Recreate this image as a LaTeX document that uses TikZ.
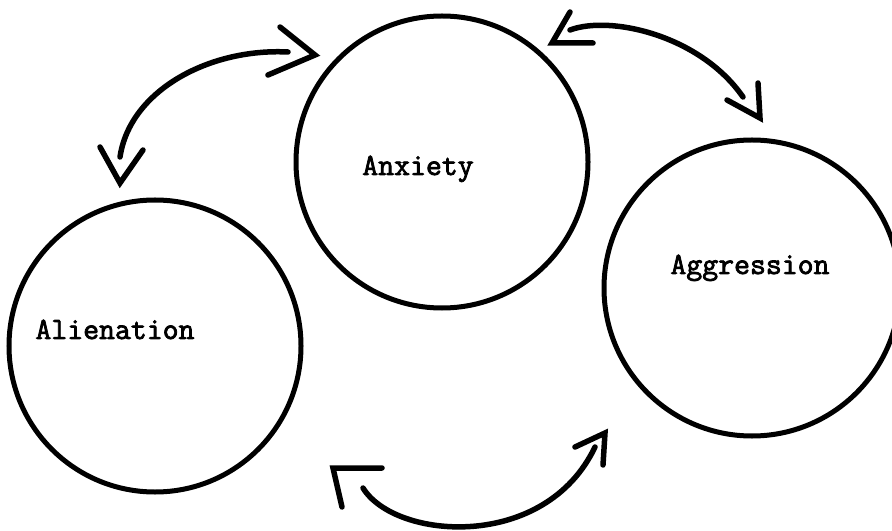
\documentclass[tikz,border=0pt]{standalone}
\usepackage{fontspec}
\newfontfamily\twfont{Latin Modern Mono}[FakeBold=2.5]
\tikzset{
  bubble/.style={circle, draw=black, line width=5bp, inner sep=0pt},
  lbl/.style={font=\twfont\fontsize{31}{31}\selectfont, anchor=base, inner sep=0pt},
  link/.style={line width=5.5bp, line cap=round, line join=round},
  barb/.style={line width=5.5bp, line cap=round, line join=miter, miter limit=3}
}
\begin{document}
\begin{tikzpicture}[x=1bp,y=-1bp]
\useasboundingbox (0,0) rectangle (892,531);
\fill[white] (0,0) rectangle (892,531);
% circles
\node[bubble, minimum size=292bp] (anx) at (442,162) {};
\node[bubble, minimum size=292bp] (ali) at (155,346) {};
\node[bubble, minimum size=296bp] (agg) at (752,288) {};
% labels
\node[lbl] (anxt) at (418,175) {Anxiety};
\node[lbl] (alit) at (115,339) {Alienation};
\node[lbl] (aggt) at (750,274) {Aggression};
% arrow A (Alienation <-> Anxiety)
\coordinate (a1) at (120,157);
\coordinate (a2) at (288,52);
\coordinate (at1) at (120,183);
\coordinate (at2) at (315,55);
\draw[link] (a1) .. controls (130,90) and (210,48) .. (a2);
\draw[barb] (100,147) -- (at1) -- (143,150);
\draw[barb] (280,27) -- (at2) -- (268,75);
% arrow B (Anxiety <-> Aggression)
\coordinate (b1) at (570,30);
\coordinate (b2) at (743,97);
\coordinate (bt1) at (552,43);
\coordinate (bt2) at (760,118);
\draw[link] (b1) .. controls (610,15) and (700,35) .. (b2);
\draw[barb] (570,12) -- (bt1) -- (593,43);
\draw[barb] (758,83) -- (bt2) -- (727,100);
% arrow C (Alienation <-> Aggression)
\coordinate (c1) at (363,488);
\coordinate (c2) at (595,447);
\coordinate (ct1) at (333,468);
\coordinate (ct2) at (605,433);
\draw[link] (c1) .. controls (395,540) and (545,552) .. (c2);
\draw[barb] (382,468) -- (ct1) -- (342,507);
\draw[barb] (575,447) -- (ct2) -- (603,465);
\end{tikzpicture}
\end{document}
